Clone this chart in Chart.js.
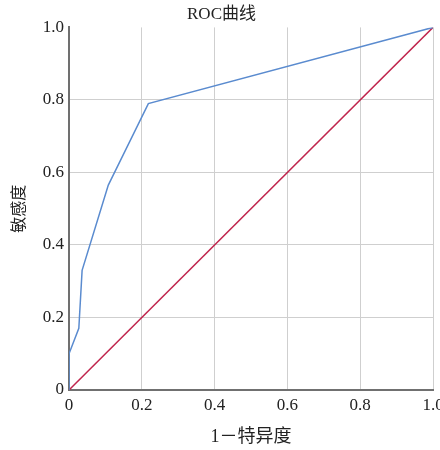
<!DOCTYPE html>
<html>
<head>
<meta charset="utf-8">
<script src="https://cdn.jsdelivr.net/npm/chart.js@4/dist/chart.umd.min.js"></script>
<style>
html,body{margin:0;padding:0;background:#fff;}
#wrap{width:440px;height:450px;position:relative;}
</style>
</head>
<body>
<div id="wrap"><canvas id="c" width="440" height="450"></canvas></div>
<script>
const rocFpr = [0, 0, 0.027, 0.036, 0.108, 0.218, 1];
const rocTpr = [0, 0.1, 0.17, 0.33, 0.565, 0.79, 1];
const refFpr = [0, 1];
const refTpr = [0, 1];
const tickValues = [0, 0.2, 0.4, 0.6, 0.8, 1.0];
const tickLabels = ['0', '0.2', '0.4', '0.6', '0.8', '1.0'];
const titleText = 'ROC曲线';
const xTitle = '1－特异度';
const yTitle = '敏感度';

const serif = '"Liberation Serif", "Noto Sans CJK SC", serif';
function pts(xs, ys){ return xs.map((x,i)=>({x:x, y:ys[i]})); }
function lab(v){ const i = tickValues.findIndex(t=>Math.abs(t-v)<1e-9); return i>=0 ? tickLabels[i] : ''; }

new Chart(document.getElementById('c'), {
  type: 'scatter',
  data: {
    datasets: [
      {data: pts(rocFpr, rocTpr), showLine: true, borderColor: '#5a8bcf', borderWidth: 1.5, pointRadius: 0, tension: 0},
      {data: pts(refFpr, refTpr), showLine: true, borderColor: '#c0254d', borderWidth: 1.5, pointRadius: 0, tension: 0}
    ]
  },
  options: {
    responsive: false,
    animation: false,
    layout: {padding: {left: 10, right: 7, top: 0, bottom: 0}},
    plugins: {
      legend: {display: false},
      tooltip: {enabled: false},
      title: {display: true, text: titleText, fullSize: true, color: '#222',
        font: {family: serif, size: 17, weight: 'normal'}, padding: {top: 4, bottom: 3}}
    },
    scales: {
      x: {
        type: 'linear', min: 0, max: 1,
        afterBuildTicks: s => { s.ticks = tickValues.map(v=>({value:v})); },
        afterFit: s => { s.height = 60; s.paddingLeft = 0; s.paddingRight = 0; },
        border: {color: '#707070', width: 2},
        grid: {color: '#cfcfcf', lineWidth: 1, drawTicks: false},
        ticks: {color: '#222', font: {family: serif, size: 17}, padding: 5, maxRotation: 0, callback: v => lab(v)},
        title: {display: true, text: xTitle, color: '#222', font: {family: serif, size: 18}, padding: {top: 0, bottom: 2}}
      },
      y: {
        type: 'linear', min: 0, max: 1,
        afterBuildTicks: s => { s.ticks = tickValues.map(v=>({value:v})); },
        afterFit: s => { s.width = 59; s.paddingTop = 0; s.paddingBottom = 0; },
        border: {color: '#707070', width: 2},
        grid: {color: c => (c.tick && c.tick.value === 1) ? 'rgba(0,0,0,0)' : '#cfcfcf', lineWidth: 1, drawTicks: false},
        ticks: {color: '#222', font: {family: serif, size: 17}, padding: 5, callback: v => lab(v)},
        title: {display: true, text: yTitle, color: '#222', font: {family: serif, size: 16}, padding: {top: 0, bottom: 0}}
      }
    }
  }
});
</script>
</body>
</html>
